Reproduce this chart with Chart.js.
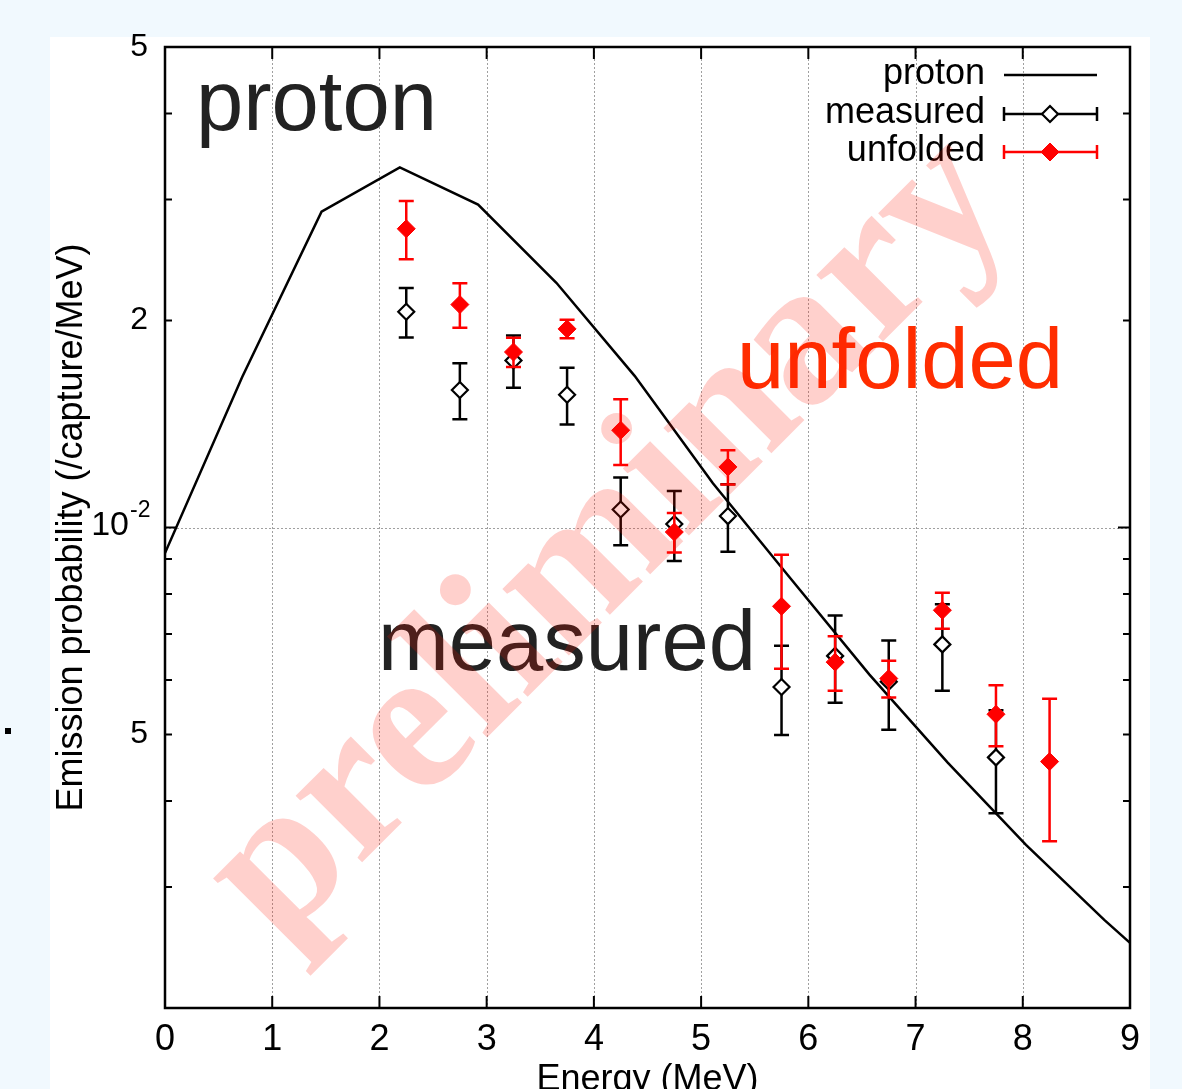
<!DOCTYPE html>
<html><head><meta charset="utf-8">
<script src="https://cdn.jsdelivr.net/npm/chart.js@4.4.1/dist/chart.umd.min.js"></script>
<style>
html,body{margin:0;padding:0;background:#f1f9fe;width:1182px;height:1089px;overflow:hidden;}
#panel{position:absolute;left:50px;top:37px;width:1100px;height:1052px;background:#fff;}
#dot{position:absolute;left:5px;top:728px;width:6px;height:6px;background:#000;}
#wrap{position:absolute;left:0;top:0;width:1182px;height:1089px;}
</style></head><body>
<div id="panel"></div><div id="dot"></div>
<div id="wrap"><canvas id="c" width="1182" height="1089"></canvas></div>
<script>
// ---- data ----
const protonEnergy = [0, 0.72, 1.46, 2.19, 2.92, 3.65, 4.38, 5.11, 5.84, 6.57, 7.30, 8.03, 8.76, 9.0];
const protonValue  = [9.18e-3, 1.656e-2, 2.88e-2, 3.34e-2, 2.95e-2, 2.27e-2, 1.662e-2, 1.160e-2, 8.41e-3, 6.11e-3, 4.55e-3, 3.455e-3, 2.687e-3, 2.487e-3];

const measuredEnergy = [2.25, 2.75, 3.25, 3.75, 4.25, 4.75, 5.25, 5.75, 6.25, 6.75, 7.25, 7.75];
const measuredValue  = [2.06e-2, 1.585e-2, 1.75e-2, 1.56e-2, 1.062e-2, 1.012e-2, 1.039e-2, 5.86e-3, 6.505e-3, 5.965e-3, 6.76e-3, 4.63e-3];
const measuredError  = [1.7e-3, 1.48e-3, 1.53e-3, 1.48e-3, 1.2e-3, 1.18e-3, 1.17e-3, 0.87e-3, 0.945e-3, 0.885e-3, 0.97e-3, 0.79e-3];

const unfoldedEnergy = [2.25, 2.75, 3.25, 3.75, 4.25, 4.75, 5.25, 5.75, 6.25, 6.75, 7.25, 7.75, 8.25];
const unfoldedValue  = [2.72e-2, 2.11e-2, 1.80e-2, 1.945e-2, 1.385e-2, 0.985e-2, 1.225e-2, 7.68e-3, 6.37e-3, 6.03e-3, 7.58e-3, 5.35e-3, 4.565e-3];
const unfoldedError  = [2.65e-3, 1.57e-3, 0.88e-3, 0.6e-3, 1.52e-3, 0.65e-3, 0.7e-3, 1.45e-3, 0.58e-3, 0.37e-3, 0.455e-3, 0.545e-3, 1.07e-3];

const seriesNames = ['proton', 'measured', 'unfolded'];
const xTickValues = [0, 1, 2, 3, 4, 5, 6, 7, 8, 9];
const xTickLabels = ['0', '1', '2', '3', '4', '5', '6', '7', '8', '9'];
const yTickValues = [0.005, 0.02, 0.05];
const yTickLabels = ['5', '2', '5'];
const yDecadeValue = 0.01;
const yDecadeBase = '10', yDecadeExp = '-2';
const yMinorTicks = [0.003, 0.004, 0.005, 0.006, 0.007, 0.008, 0.009, 0.02, 0.03, 0.04];
const xTitle = 'Energy (MeV)';
const yTitle = 'Emission probability (/capture/MeV)';
const bigLabels = [
  {text: 'proton',   color: '#222222'},
  {text: 'unfolded', color: '#ff2d00'},
  {text: 'measured', color: '#222222'}
];
const watermark = 'preliminary';

const FONT = '"Liberation Sans", Arial, Helvetica, sans-serif';

const pts = (xs, ys) => xs.map((x, i) => ({x: x, y: ys[i]}));

// error bars, drawn per dataset so layering matches
const errorBarPlugin = {
  id: 'errorBars',
  beforeDatasetDraw(chart, args) {
    const ds = chart.data.datasets[args.index];
    if (!ds.errors) return;
    const xs = chart.scales.x, ys = chart.scales.y, ctx = chart.ctx;
    ctx.save();
    ctx.strokeStyle = ds.borderColor;
    ctx.lineWidth = 2.5;
    ds.data.forEach((p, i) => {
      const e = ds.errors[i];
      const px = xs.getPixelForValue(p.x);
      const y1 = ys.getPixelForValue(p.y + e), y2 = ys.getPixelForValue(p.y - e);
      ctx.beginPath();
      ctx.moveTo(px, y1); ctx.lineTo(px, y2);
      ctx.moveTo(px - 7.5, y1); ctx.lineTo(px + 7.5, y1);
      ctx.moveTo(px - 7.5, y2); ctx.lineTo(px + 7.5, y2);
      ctx.stroke();
    });
    ctx.restore();
  }
};

const decorPlugin = {
  id: 'decor',
  beforeDatasetsDraw(chart) {
    const {ctx, chartArea: a, scales: {x, y}} = chart;
    ctx.save();
    ctx.strokeStyle = '#a0a0a0';
    ctx.lineWidth = 1;
    ctx.setLineDash([2, 2]);
    ctx.beginPath();
    xTickValues.slice(1, -1).forEach(v => {
      const px = Math.round(x.getPixelForValue(v)) + 0.5;
      ctx.moveTo(px, a.top); ctx.lineTo(px, a.bottom);
    });
    const py = Math.round(y.getPixelForValue(yDecadeValue)) + 0.5;
    ctx.moveTo(a.left, py); ctx.lineTo(a.right, py);
    ctx.stroke();
    ctx.restore();
  },
  afterDatasetsDraw(chart) {
    const {ctx, chartArea: a, scales: {x, y}} = chart;
    ctx.save();
    // frame
    ctx.strokeStyle = '#000';
    ctx.lineWidth = 2.5;
    ctx.strokeRect(a.left, a.top, a.right - a.left, a.bottom - a.top);
    // ticks
    ctx.lineWidth = 2;
    ctx.beginPath();
    xTickValues.forEach(v => {
      const px = x.getPixelForValue(v);
      ctx.moveTo(px, a.bottom); ctx.lineTo(px, a.bottom - 12);
      ctx.moveTo(px, a.top); ctx.lineTo(px, a.top + 12);
    });
    yMinorTicks.forEach(v => {
      const py = y.getPixelForValue(v);
      ctx.moveTo(a.left, py); ctx.lineTo(a.left + 7, py);
      ctx.moveTo(a.right, py); ctx.lineTo(a.right - 7, py);
    });
    const pd = y.getPixelForValue(yDecadeValue);
    ctx.moveTo(a.left, pd); ctx.lineTo(a.left + 12, pd);
    ctx.moveTo(a.right, pd); ctx.lineTo(a.right - 12, pd);
    ctx.stroke();

    // 10^-2 label
    ctx.fillStyle = '#000';
    ctx.font = '34px ' + FONT;
    ctx.textAlign = 'right';
    ctx.textBaseline = 'middle';
    ctx.fillText(yDecadeBase, a.left - 36, pd - 2);
    ctx.font = '23px ' + FONT;
    ctx.textAlign = 'left';
    ctx.fillText(yDecadeExp, a.left - 35, pd - 17);

    // big labels
    ctx.font = '85px ' + FONT;
    ctx.textBaseline = 'alphabetic';
    ctx.textAlign = 'left';
    const lx = [196, 737, 378], ly = [130, 388, 670];
    bigLabels.forEach((b, i) => {
      ctx.fillStyle = b.color;
      ctx.fillText(b.text, lx[i], ly[i]);
    });

    // legend
    const rows = [75, 114, 152];
    const sx1 = 1004, sx2 = 1097, sxm = 1050;
    ctx.font = '36px ' + FONT;
    ctx.textAlign = 'right';
    chart.data.datasets.forEach((ds, i) => {
      const ry = rows[i];
      ctx.fillStyle = '#000';
      ctx.fillText(ds.label, 985, ry + 9);
      ctx.strokeStyle = ds.borderColor;
      ctx.lineWidth = 2.5;
      ctx.beginPath();
      ctx.moveTo(sx1, ry); ctx.lineTo(sx2, ry);
      if (ds.errors) {
        ctx.moveTo(sx1, ry - 7); ctx.lineTo(sx1, ry + 7);
        ctx.moveTo(sx2, ry - 7); ctx.lineTo(sx2, ry + 7);
      }
      ctx.stroke();
      if (ds.errors) {
        const r = ds.pointRadius;
        ctx.beginPath();
        ctx.moveTo(sxm - r, ry); ctx.lineTo(sxm, ry - r); ctx.lineTo(sxm + r, ry); ctx.lineTo(sxm, ry + r);
        ctx.closePath();
        ctx.fillStyle = ds.pointBackgroundColor;
        ctx.fill();
        ctx.lineWidth = ds.pointBorderWidth;
        ctx.strokeStyle = ds.pointBorderColor;
        ctx.stroke();
      }
    });
    ctx.restore();
  },
  afterDraw(chart) {
    const ctx = chart.ctx;
    ctx.save();
    ctx.translate(622, 553);
    ctx.rotate(-Math.PI / 4);
    ctx.font = 'bold 205px "Liberation Serif", "Times New Roman", serif';
    ctx.fillStyle = 'rgba(255,20,0,0.2)';
    ctx.textAlign = 'center';
    ctx.textBaseline = 'alphabetic';
    ctx.fillText(watermark, 0, 35);
    ctx.restore();
  }
};

new Chart(document.getElementById('c'), {
  type: 'scatter',
  data: {
    datasets: [
      {
        label: seriesNames[0],
        data: pts(protonEnergy, protonValue),
        order: 3,
        showLine: true,
        borderColor: '#000',
        borderWidth: 2.5,
        pointRadius: 0,
        tension: 0
      },
      {
        label: seriesNames[1],
        data: pts(measuredEnergy, measuredValue),
        errors: measuredError,
        order: 2,
        showLine: false,
        borderColor: '#000',
        pointStyle: 'rectRot',
        pointRadius: 8,
        pointBackgroundColor: '#fff',
        pointBorderColor: '#000',
        pointBorderWidth: 2.2
      },
      {
        label: seriesNames[2],
        data: pts(unfoldedEnergy, unfoldedValue),
        errors: unfoldedError,
        order: 1,
        showLine: false,
        borderColor: '#ff0000',
        pointStyle: 'rectRot',
        pointRadius: 9,
        pointBackgroundColor: '#ff0000',
        pointBorderColor: '#ff0000',
        pointBorderWidth: 1
      }
    ]
  },
  options: {
    responsive: false,
    animation: false,
    events: [],
    layout: {padding: {left: 49, top: 47, right: 52, bottom: 0}},
    plugins: {legend: {display: false}, tooltip: {enabled: false}},
    scales: {
      x: {
        type: 'linear', min: 0, max: 9,
        afterBuildTicks: s => { s.ticks = xTickValues.map(v => ({value: v})); },
        afterFit: s => { s.height = 81; },
        ticks: {
          callback: v => xTickLabels[xTickValues.indexOf(v)],
          font: {size: 36, family: FONT}, color: '#000', padding: 10, maxRotation: 0, autoSkip: false
        },
        grid: {display: false, drawTicks: false},
        border: {display: false},
        title: {display: true, text: xTitle, font: {size: 36, family: FONT}, color: '#000', padding: {top: 0, bottom: -13}}
      },
      y: {
        type: 'logarithmic', min: 0.002, max: 0.05,
        afterBuildTicks: s => { s.ticks = yTickValues.map(v => ({value: v})); },
        afterFit: s => { s.width = 116; },
        ticks: {
          callback: v => { const i = yTickValues.indexOf(v); return i >= 0 ? yTickLabels[i] : ''; },
          font: {size: 32, family: FONT}, color: '#000', padding: 17, autoSkip: false
        },
        grid: {display: false, drawTicks: false},
        border: {display: false},
        title: {display: true, text: yTitle, font: {size: 36, family: FONT}, color: '#000', padding: {top: 1, bottom: 0}}
      }
    }
  },
  plugins: [errorBarPlugin, decorPlugin]
});
</script>
</body></html>
